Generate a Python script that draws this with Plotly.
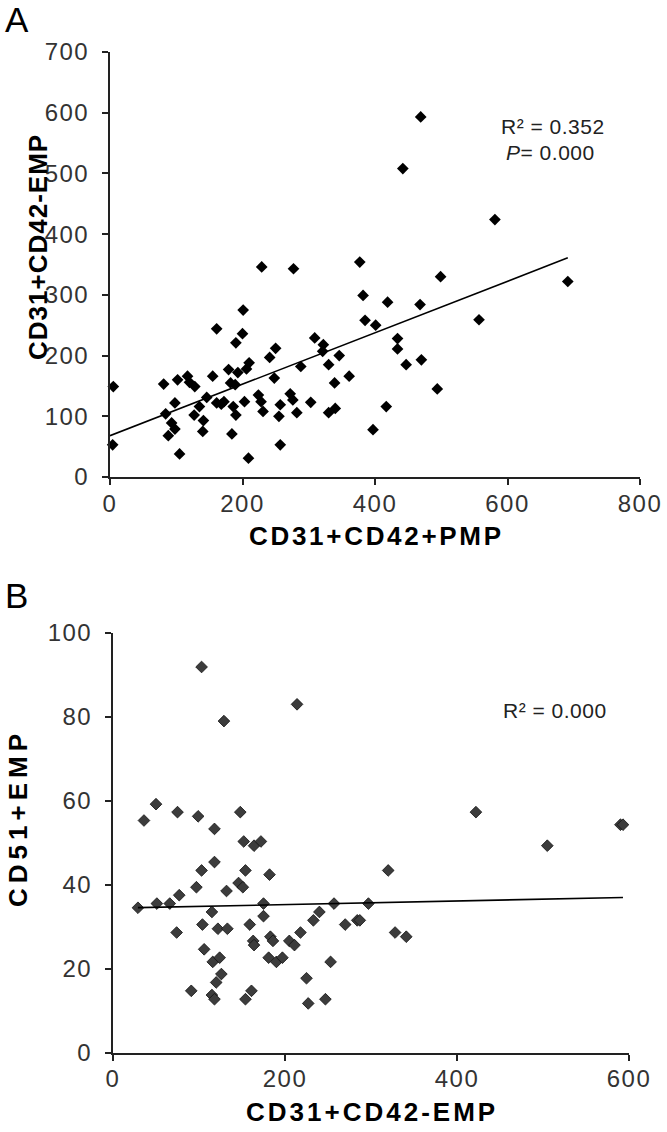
import numpy as np
import plotly.graph_objects as go

# Panel A: CD31+CD42+PMP (x) vs CD31+CD42-EMP (y)
a_pmp = [5, 4, 81, 102, 117, 120, 128, 98, 84, 93, 98, 88, 105, 127, 135, 141, 140, 146, 155, 161,
         161, 172, 168, 179, 182, 184, 186, 190, 190, 189, 193, 201, 200, 206, 210, 203, 209, 229, 224, 228,
         231, 241, 250, 248, 257, 255, 257, 277, 272, 276, 282, 288, 303, 309, 322, 321, 330, 339, 330, 340,
         346, 361, 377, 382, 385, 401, 397, 419, 468, 499, 557, 691, 434, 434, 447, 470, 494, 417, 469, 442, 581]
a_emp = [149, 53, 153, 160, 166, 156, 149, 122, 104, 89, 79, 68, 38, 102, 116, 93, 75, 131, 166, 244,
         122, 124, 120, 177, 155, 71, 116, 102, 221, 152, 172, 275, 236, 178, 188, 124, 31, 346, 135, 124,
         108, 197, 212, 163, 119, 100, 53, 343, 137, 127, 106, 182, 123, 229, 218, 207, 185, 155, 106, 113,
         200, 166, 354, 299, 258, 250, 78, 288, 284, 330, 259, 322, 228, 211, 185, 193, 145, 116, 593, 508, 424]

# Panel B: CD31+CD42-EMP (x) vs CD51+EMP (y)
b_emp = [103, 129, 214, 36, 50, 75, 99, 118, 148, 152, 164, 172, 29, 51, 66, 77, 74, 91, 97, 103,
         118, 115, 104, 122, 133, 106, 116, 124, 126, 120, 115, 118, 132, 146, 151, 154, 159, 163, 164, 154,
         161, 182, 175, 175, 183, 186, 181, 190, 197, 205, 211, 218, 225, 227, 247, 253, 233, 240, 257, 270,
         284, 287, 297, 320, 328, 341, 422, 505, 590, 593]
b_cd51 = [91.9, 79.0, 83.0, 55.3, 59.2, 57.3, 56.3, 53.3, 57.3, 50.3, 49.3, 50.3, 34.5, 35.5, 35.5, 37.5,
          28.6, 14.7, 39.4, 43.4, 45.4, 33.5, 30.5, 29.5, 29.5, 24.6, 21.6, 22.6, 18.7, 16.7, 13.7, 12.7,
          38.5, 40.4, 39.4, 43.4, 30.5, 26.6, 25.6, 12.7, 14.7, 42.4, 35.5, 32.5, 27.6, 26.6, 22.6, 21.6,
          22.6, 26.6, 25.6, 28.6, 17.7, 11.7, 12.7, 21.6, 31.5, 33.5, 35.5, 30.5, 31.5, 31.5, 35.5, 43.4,
          28.6, 27.6, 57.3, 49.3, 54.3, 54.3]

# Linear trend lines as printed on the chart (intercept, slope)
a_trend = (68.0, 0.424)
b_trend = (34.4, 0.0043)

a_xticks = [0, 200, 400, 600, 800]
a_yticks = [0, 100, 200, 300, 400, 500, 600, 700]
b_xticks = [0, 200, 400, 600]
b_yticks = [0, 20, 40, 60, 80, 100]

r2_a_text = "R\u00b2 = 0.352"
p_a_text = "<i>P</i>= 0.000"
r2_b_text = "R\u00b2 = 0.000"

FONT = "Liberation Sans, Arial, sans-serif"
W, H = 667, 1132

def PX(x):
    return x / W

def PY(y):
    return 1 - y / H

def spaced(t, sp):
    return f'<span style="letter-spacing:{sp}px">{t}</span>'

ax_line = np.array([0, max(a_pmp)])
bx_line = np.array([min(b_emp), max(b_emp)])

fig = go.Figure()
fig.add_trace(go.Scatter(x=a_pmp, y=a_emp, mode="markers", xaxis="x", yaxis="y",
                         marker=dict(symbol="diamond", size=9, color="black"),
                         cliponaxis=False, showlegend=False))
fig.add_trace(go.Scatter(x=ax_line, y=a_trend[0] + a_trend[1] * ax_line, mode="lines",
                         xaxis="x", yaxis="y", line=dict(color="black", width=1.6), showlegend=False))
fig.add_trace(go.Scatter(x=b_emp, y=b_cd51, mode="markers", xaxis="x2", yaxis="y2",
                         marker=dict(symbol="diamond", size=9, color="#3c3c3c",
                                     line=dict(color="#111111", width=0.8)),
                         cliponaxis=False, showlegend=False))
fig.add_trace(go.Scatter(x=bx_line, y=b_trend[0] + b_trend[1] * bx_line, mode="lines",
                         xaxis="x2", yaxis="y2", line=dict(color="black", width=1.6), showlegend=False))

TICKSP = 1.5
axis_common = dict(showline=True, linecolor="#222222", linewidth=2, ticks="outside", ticklen=6,
                   tickwidth=2, tickcolor="#222222", showgrid=False, zeroline=False,
                   automargin=False,
                   tickfont=dict(family=FONT, size=24, color="#333333"))

fig.update_layout(
    template="none",
    width=W, height=H, margin=dict(l=0, r=0, t=0, b=0, pad=0),
    paper_bgcolor="white", plot_bgcolor="white",
    xaxis=dict(domain=[PX(110), PX(640)], range=[0, 800], tickvals=a_xticks,
               ticktext=[spaced(v, TICKSP) for v in a_xticks], anchor="y",
               ticklabelstandoff=-2, **axis_common),
    yaxis=dict(domain=[PY(477), PY(52)], range=[0, 700], tickvals=a_yticks,
               ticktext=[spaced(v, TICKSP) for v in a_yticks], anchor="x",
               ticklabelstandoff=8, **axis_common),
    xaxis2=dict(domain=[PX(113), PX(629)], range=[0, 600], tickvals=b_xticks,
                ticktext=[spaced(v, TICKSP) for v in b_xticks], anchor="y2",
                ticklabelstandoff=-2, **axis_common),
    yaxis2=dict(domain=[PY(1052.5), PY(633)], range=[0, 100], tickvals=b_yticks,
                ticktext=[spaced(v, TICKSP) for v in b_yticks], anchor="x2",
                ticklabelstandoff=8, **axis_common),
)

def ann(text, x, y, size, bold=False, angle=0, color="black", sp=0):
    t = f"<b>{text}</b>" if bold else text
    if sp:
        t = spaced(t, sp)
    fig.add_annotation(text=t, x=PX(x), y=PY(y), xref="paper", yref="paper", showarrow=False,
                       textangle=angle, xanchor="center", yanchor="middle",
                       font=dict(family=FONT, size=size, color=color))

ann("A", 17, 19, 35)
ann("B", 16, 595, 35)
ann("CD31+CD42+PMP", 376, 536, 26, bold=True, sp=2.7)
ann("CD31+CD42-EMP", 38, 247, 26, bold=True, angle=-90, sp=1)
ann("CD51+EMP", 18, 818, 26, bold=True, angle=-90, sp=5)
ann("CD31+CD42-EMP", 372, 1112, 26, bold=True, sp=3)
ann(r2_a_text, 553, 126, 21, color="#222222", sp=0.5)
ann(p_a_text, 550, 152, 21, color="#222222", sp=0.5)
ann(r2_b_text, 555, 710, 21, color="#222222", sp=0.5)

fig.write_html("out.html", config={"displayModeBar": False},
               post_script="document.body.style.margin='0';document.body.style.padding='0';")
